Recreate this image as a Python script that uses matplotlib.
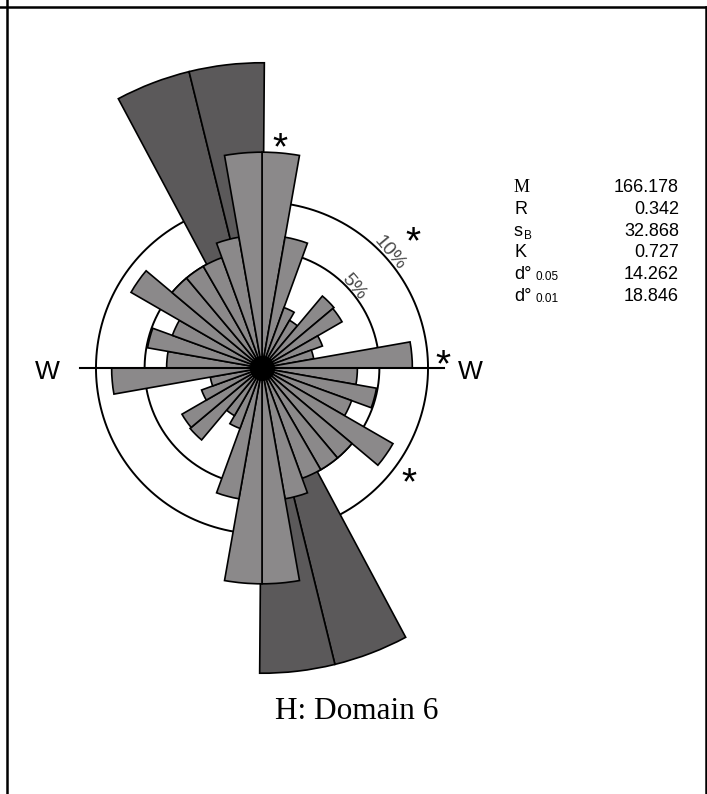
"""Axial rose diagram (equal-area) for Domain 6 with circular statistics."""

import matplotlib
matplotlib.use("Agg")
import matplotlib.pyplot as plt
from matplotlib.lines import Line2D
import numpy as np

# 10-degree bins 0-10 ... 170-180, percentage of observations (axial: mirrored)
BIN_START = np.arange(0, 180, 10)
PCT = [16.9, 6.4, 1.5, 1.1, 3.2, 3.1, 1.5, 1.0, 8.2,
       3.3, 4.9, 3.3, 8.3, 5.0, 5.0, 5.0, 6.4, 16.9]

# circular statistics
STAT_NAMES = ["M", "R", "s", "K", "d°", "d°"]
STAT_SUBS = ["", "", "B", "", "0.05", "0.01"]
STAT_VALUES = ["166.178", "0.342", "32.868", "0.727", "14.262", "18.846"]
MEAN_DIR = 166.178
CONF_05 = 14.262
SECTOR_PCT = 33.8          # outer radius of the confidence sector (in %)
RINGS = [5, 10]
STAR_DIRS = [4.5, 48, 86, 125.5]
STAR_PCT = [19.3, 15.0, 11.9, 11.9]

LIGHT = "#8b898a"
DARK = "#5b595a"
W, H = 707, 794


def fx(px):
    return px / W


def fy(py):
    return 1 - py / H


fig = plt.figure(figsize=(W / 100, H / 100), dpi=100)

# polar axes centred on (262, 368) px, rmax = 6 -> 315 px
RMAX = 6.0
RPX = 315
ax = fig.add_axes([fx(262 - RPX), fy(368 + RPX), 2 * RPX / W, 2 * RPX / H],
                  projection="polar")
ax.set_theta_zero_location("N")
ax.set_theta_direction(-1)
ax.set_ylim(0, RMAX)
ax.axis("off")

# confidence sector around the mean direction (both ends of the axis)
for m in (MEAN_DIR, MEAN_DIR + 180):
    for side in (-0.5, 0.5):
        ax.bar(np.radians(m + side * CONF_05), np.sqrt(SECTOR_PCT),
               width=np.radians(CONF_05), color=DARK, edgecolor="black",
               linewidth=1.2, zorder=2)

# reference circles
t = np.linspace(0, 2 * np.pi, 400)
for p in RINGS:
    ax.plot(t, np.full_like(t, np.sqrt(p)), color="black", lw=1.4, zorder=1)

# rose petals
pct = np.array(PCT)
centers = np.concatenate([BIN_START, BIN_START + 180]) + 5
ax.bar(np.radians(centers), np.sqrt(np.tile(pct, 2)), width=np.radians(10),
       color=LIGHT, edgecolor="black", linewidth=1.2, zorder=3)
ax.scatter([0], [0], s=290, color="black", zorder=5)

# E-W line
AX_LEN = 3.47
ax.plot([np.radians(270), 0], [AX_LEN, 0], color="black", lw=1.5, zorder=6)
ax.plot([0, np.radians(90)], [0, AX_LEN], color="black", lw=1.5, zorder=6)

# ring labels
ax.text(np.radians(48), np.sqrt(10) + 0.1, "10%", rotation=-50, ha="center",
        va="center", fontsize=14, color="#4a4a4a", family="Liberation Sans",
        rotation_mode="anchor", zorder=7)
ax.text(np.radians(48.5), np.sqrt(5) + 0.09, "5%", rotation=-50, ha="center",
        va="center", fontsize=14, color="#4a4a4a", family="Liberation Sans",
        rotation_mode="anchor", zorder=7)

# significance stars
for d, p in zip(STAR_DIRS, STAR_PCT):
    ax.annotate("*", xy=(np.radians(d), np.sqrt(p)), xytext=(0, -0.55 * 28),
                textcoords="offset points", ha="center", va="baseline",
                fontsize=28, family="Liberation Sans", zorder=7)

fig.text(fx(47), fy(372), "W", ha="center", va="center", fontsize=19,
         family="Liberation Sans")
fig.text(fx(470), fy(372), "W", ha="center", va="center", fontsize=19,
         family="Liberation Sans")

# statistics table
for i, (name, sub, val) in enumerate(zip(STAT_NAMES, STAT_SUBS, STAT_VALUES)):
    yb = 192 + i * 21.8
    fam = "Liberation Serif" if name == "M" else "Liberation Sans"
    fig.text(fx(514), fy(yb), name, ha="left", va="baseline", fontsize=13,
             family=fam)
    if sub == "B":
        fig.text(fx(524), fy(yb + 3), sub, ha="left", va="baseline",
                 fontsize=8.5, family="Liberation Sans")
    elif sub:
        fig.text(fx(535), fy(yb + 1), sub, ha="left", va="baseline",
                 fontsize=8.5, family="Liberation Sans")
    fig.text(fx(679), fy(yb), val, ha="right", va="baseline", fontsize=13,
             family="Liberation Sans")

fig.text(fx(357), fy(719), "H: Domain 6", ha="center", va="baseline",
         fontsize=22.5, family="Liberation Serif")

# table cell borders
for xs, ys in [([0, W], [6.5, 6.5]), ([6.5, 6.5], [0, H]), ([705.5, 705.5], [6.5, H])]:
    fig.add_artist(Line2D([fx(x) for x in xs], [fy(y) for y in ys],
                          color="black", lw=1.8))

fig.savefig("out.png", dpi=100)
